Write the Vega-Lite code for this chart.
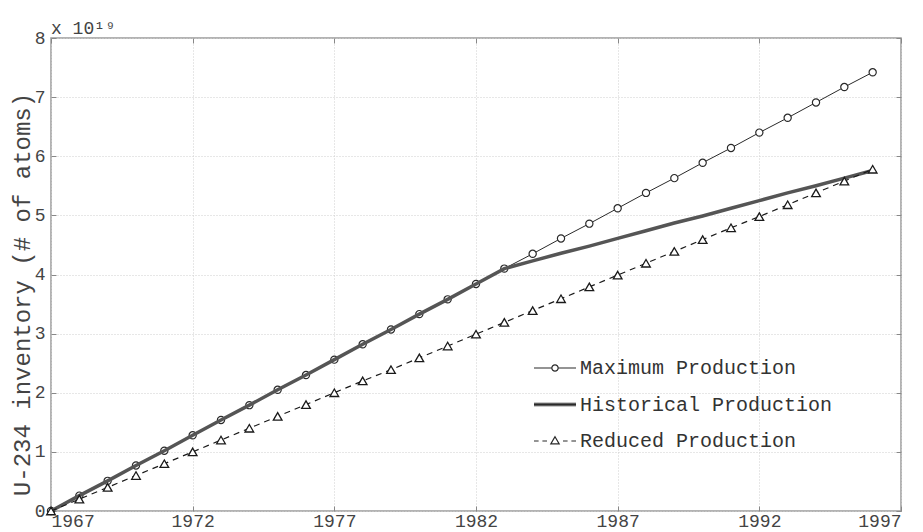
{
  "$schema": "https://vega.github.io/schema/vega-lite/v6.json",
  "width": 850,
  "height": 473,
  "autosize": {"type": "none"},
  "padding": {"left": 51, "top": 38, "right": 22, "bottom": 21},
  "background": "white",
  "config": {
    "font": "Liberation Mono",
    "view": {"stroke": "#9a9a9a", "strokeWidth": 1.5},
    "axis": {
      "labelFont": "Liberation Mono",
      "labelFontSize": 18,
      "labelColor": "#444",
      "titleFont": "Liberation Mono",
      "titleFontWeight": "normal",
      "titleColor": "#444",
      "domain": false,
      "tickColor": "#888",
      "tickSize": -5,
      "gridColor": "#cfcfcf",
      "gridDash": [1, 2],
      "gridWidth": 1
    }
  },
  "title": {
    "text": "x 10¹⁹",
    "anchor": "start",
    "frame": "group",
    "font": "Liberation Mono",
    "fontSize": 18,
    "fontWeight": "normal",
    "color": "#444",
    "offset": 3,
    "dy": 12
  },
  "data": {
    "values": [
      {"year": 1967, "series": "Maximum Production", "value": 0},
      {"year": 1968, "series": "Maximum Production", "value": 0.26},
      {"year": 1969, "series": "Maximum Production", "value": 0.51},
      {"year": 1970, "series": "Maximum Production", "value": 0.77},
      {"year": 1971, "series": "Maximum Production", "value": 1.02},
      {"year": 1972, "series": "Maximum Production", "value": 1.28},
      {"year": 1973, "series": "Maximum Production", "value": 1.54},
      {"year": 1974, "series": "Maximum Production", "value": 1.79},
      {"year": 1975, "series": "Maximum Production", "value": 2.05},
      {"year": 1976, "series": "Maximum Production", "value": 2.30},
      {"year": 1977, "series": "Maximum Production", "value": 2.56},
      {"year": 1978, "series": "Maximum Production", "value": 2.82},
      {"year": 1979, "series": "Maximum Production", "value": 3.07},
      {"year": 1980, "series": "Maximum Production", "value": 3.33},
      {"year": 1981, "series": "Maximum Production", "value": 3.58},
      {"year": 1982, "series": "Maximum Production", "value": 3.84},
      {"year": 1983, "series": "Maximum Production", "value": 4.10},
      {"year": 1984, "series": "Maximum Production", "value": 4.35},
      {"year": 1985, "series": "Maximum Production", "value": 4.61},
      {"year": 1986, "series": "Maximum Production", "value": 4.86},
      {"year": 1987, "series": "Maximum Production", "value": 5.12},
      {"year": 1988, "series": "Maximum Production", "value": 5.38},
      {"year": 1989, "series": "Maximum Production", "value": 5.63},
      {"year": 1990, "series": "Maximum Production", "value": 5.89},
      {"year": 1991, "series": "Maximum Production", "value": 6.14},
      {"year": 1992, "series": "Maximum Production", "value": 6.40},
      {"year": 1993, "series": "Maximum Production", "value": 6.65},
      {"year": 1994, "series": "Maximum Production", "value": 6.91},
      {"year": 1995, "series": "Maximum Production", "value": 7.17},
      {"year": 1996, "series": "Maximum Production", "value": 7.42},
      {"year": 1967, "series": "Historical Production", "value": 0},
      {"year": 1968, "series": "Historical Production", "value": 0.26},
      {"year": 1969, "series": "Historical Production", "value": 0.51},
      {"year": 1970, "series": "Historical Production", "value": 0.77},
      {"year": 1971, "series": "Historical Production", "value": 1.02},
      {"year": 1972, "series": "Historical Production", "value": 1.28},
      {"year": 1973, "series": "Historical Production", "value": 1.54},
      {"year": 1974, "series": "Historical Production", "value": 1.79},
      {"year": 1975, "series": "Historical Production", "value": 2.05},
      {"year": 1976, "series": "Historical Production", "value": 2.30},
      {"year": 1977, "series": "Historical Production", "value": 2.56},
      {"year": 1978, "series": "Historical Production", "value": 2.82},
      {"year": 1979, "series": "Historical Production", "value": 3.07},
      {"year": 1980, "series": "Historical Production", "value": 3.33},
      {"year": 1981, "series": "Historical Production", "value": 3.58},
      {"year": 1982, "series": "Historical Production", "value": 3.84},
      {"year": 1983, "series": "Historical Production", "value": 4.10},
      {"year": 1984, "series": "Historical Production", "value": 4.23},
      {"year": 1985, "series": "Historical Production", "value": 4.36},
      {"year": 1986, "series": "Historical Production", "value": 4.48},
      {"year": 1987, "series": "Historical Production", "value": 4.61},
      {"year": 1988, "series": "Historical Production", "value": 4.74},
      {"year": 1989, "series": "Historical Production", "value": 4.87},
      {"year": 1990, "series": "Historical Production", "value": 4.99},
      {"year": 1991, "series": "Historical Production", "value": 5.12},
      {"year": 1992, "series": "Historical Production", "value": 5.25},
      {"year": 1993, "series": "Historical Production", "value": 5.38},
      {"year": 1994, "series": "Historical Production", "value": 5.50},
      {"year": 1995, "series": "Historical Production", "value": 5.63},
      {"year": 1996, "series": "Historical Production", "value": 5.76},
      {"year": 1967, "series": "Reduced Production", "value": 0},
      {"year": 1968, "series": "Reduced Production", "value": 0.20},
      {"year": 1969, "series": "Reduced Production", "value": 0.40},
      {"year": 1970, "series": "Reduced Production", "value": 0.60},
      {"year": 1971, "series": "Reduced Production", "value": 0.80},
      {"year": 1972, "series": "Reduced Production", "value": 1.00},
      {"year": 1973, "series": "Reduced Production", "value": 1.20},
      {"year": 1974, "series": "Reduced Production", "value": 1.40},
      {"year": 1975, "series": "Reduced Production", "value": 1.60},
      {"year": 1976, "series": "Reduced Production", "value": 1.80},
      {"year": 1977, "series": "Reduced Production", "value": 2.00},
      {"year": 1978, "series": "Reduced Production", "value": 2.20},
      {"year": 1979, "series": "Reduced Production", "value": 2.39},
      {"year": 1980, "series": "Reduced Production", "value": 2.59},
      {"year": 1981, "series": "Reduced Production", "value": 2.79},
      {"year": 1982, "series": "Reduced Production", "value": 2.99},
      {"year": 1983, "series": "Reduced Production", "value": 3.19},
      {"year": 1984, "series": "Reduced Production", "value": 3.39},
      {"year": 1985, "series": "Reduced Production", "value": 3.59},
      {"year": 1986, "series": "Reduced Production", "value": 3.79},
      {"year": 1987, "series": "Reduced Production", "value": 3.99},
      {"year": 1988, "series": "Reduced Production", "value": 4.19},
      {"year": 1989, "series": "Reduced Production", "value": 4.39},
      {"year": 1990, "series": "Reduced Production", "value": 4.59},
      {"year": 1991, "series": "Reduced Production", "value": 4.79},
      {"year": 1992, "series": "Reduced Production", "value": 4.98},
      {"year": 1993, "series": "Reduced Production", "value": 5.18},
      {"year": 1994, "series": "Reduced Production", "value": 5.38},
      {"year": 1995, "series": "Reduced Production", "value": 5.58},
      {"year": 1996, "series": "Reduced Production", "value": 5.78}
    ]
  },
  "layer": [
    {
      "transform": [{"filter": "datum.series === 'Maximum Production'"}],
      "mark": {"type": "line", "color": "#2a2a2a", "strokeWidth": 1},
      "encoding": {
        "x": {"field": "year", "type": "quantitative",
              "scale": {"domain": [1967, 1997], "nice": false, "zero": false},
              "axis": {"values": [1967, 1972, 1977, 1982, 1987, 1992, 1997], "format": "d", "title": null, "grid": true, "labelPadding": 6, "labelBaseline": "top"}},
        "y": {"field": "value", "type": "quantitative",
              "scale": {"domain": [0, 8], "nice": false},
              "axis": {"values": [0, 1, 2, 3, 4, 5, 6, 7, 8], "title": "U-234 inventory (# of atoms)", "titleFontSize": 24, "titlePadding": 0, "titleY": 256, "grid": true, "labelPadding": 11}}
      }
    },
    {
      "transform": [{"filter": "datum.series === 'Maximum Production'"}],
      "mark": {"type": "point", "shape": "circle", "filled": true, "fill": "white", "stroke": "#2a2a2a", "strokeWidth": 1.2, "size": 52, "opacity": 1},
      "encoding": {
        "x": {"field": "year", "type": "quantitative", "axis": null},
        "y": {"field": "value", "type": "quantitative", "axis": null}
      }
    },
    {
      "transform": [{"filter": "datum.series === 'Historical Production'"}],
      "mark": {"type": "line", "color": "#555555", "strokeWidth": 3.5},
      "encoding": {
        "x": {"field": "year", "type": "quantitative", "axis": null},
        "y": {"field": "value", "type": "quantitative", "axis": null}
      }
    },
    {
      "transform": [{"filter": "datum.series === 'Reduced Production'"}],
      "mark": {"type": "line", "color": "#1a1a1a", "strokeWidth": 1.2, "strokeDash": [6, 5]},
      "encoding": {
        "x": {"field": "year", "type": "quantitative", "axis": null},
        "y": {"field": "value", "type": "quantitative", "axis": null}
      }
    },
    {
      "transform": [{"filter": "datum.series === 'Reduced Production'"}],
      "mark": {"type": "point", "shape": "triangle-up", "filled": true, "fill": "white", "stroke": "#1a1a1a", "strokeWidth": 1.3, "size": 75, "opacity": 1},
      "encoding": {
        "x": {"field": "year", "type": "quantitative",
              "axis": {"orient": "top", "values": [1967, 1972, 1977, 1982, 1987, 1992, 1997], "labels": false, "grid": false, "title": null}},
        "y": {"field": "value", "type": "quantitative",
              "axis": {"orient": "right", "values": [0, 1, 2, 3, 4, 5, 6, 7, 8], "labels": false, "grid": false, "title": null}}
      }
    },
    {
      "transform": [{"filter": "false"}],
      "mark": {"type": "point", "filled": true, "fill": "white", "stroke": "#2a2a2a", "opacity": 1},
      "encoding": {
        "x": {"field": "year", "type": "quantitative", "axis": null},
        "y": {"field": "value", "type": "quantitative", "axis": null},
        "shape": {
          "field": "series", "type": "nominal",
          "scale": {
            "domain": ["Maximum Production", "Historical Production", "Reduced Production"],
            "range": [
              "M-1,0L-0.15,0M0.15,0L1,0M0.15,0A0.15,0.15 0 1,1 -0.15,0A0.15,0.15 0 1,1 0.15,0Z",
              "M-1,-0.06H1M-1,0H1M-1,0.06H1",
              "M-1,0L-0.78,0M-0.6,0L-0.38,0M0.38,0L0.6,0M0.78,0L1,0M0,-0.2L0.2,0.14L-0.2,0.14Z"
            ]
          },
          "legend": {
            "orient": "none",
            "legendX": 482,
            "legendY": 308,
            "title": null,
            "padding": 0,
            "symbolSize": 1764,
            "symbolStrokeWidth": 1.2,
            "labelFont": "Liberation Mono",
            "labelFontSize": 20,
            "labelColor": "#333",
            "labelOffset": 3,
            "labelLimit": 500,
            "rowPadding": 4.5
          }
        }
      }
    }
  ],
  "resolve": {"axis": {"x": "independent", "y": "independent"}}
}
